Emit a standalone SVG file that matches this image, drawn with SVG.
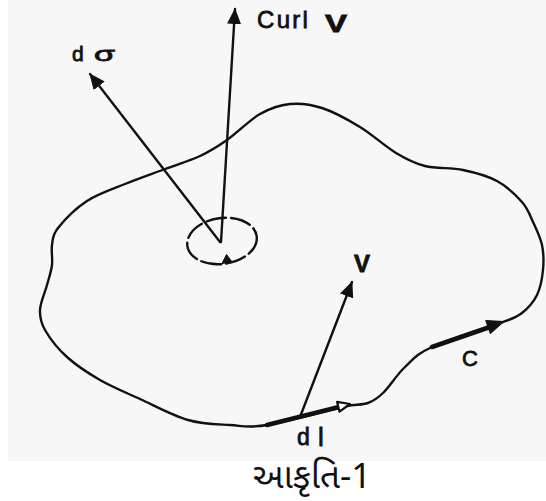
<svg xmlns="http://www.w3.org/2000/svg" width="546" height="501" viewBox="0 0 546 501">
  <style>
    .ln { fill: none; stroke: #111; stroke-width: 2.4; stroke-linecap: round; stroke-linejoin: round; }
    .bold { fill: none; stroke: #111; stroke-width: 4.5; stroke-linecap: round; }
    .lbl { font-family: "Liberation Sans", Arial, sans-serif; fill: #111; stroke: #111; stroke-width: 0.8; }
    .cap { font-family: "Noto Sans Gujarati", "Noto Sans", "Liberation Sans", sans-serif; fill: #111; font-size: 35px; }
    .head { fill: #111; stroke: #111; stroke-width: 1; stroke-linejoin: round; }
  </style>
  <defs>
    <marker id="arr" viewBox="0 0 16 14" refX="15" refY="7" markerWidth="16" markerHeight="14" markerUnits="userSpaceOnUse" orient="auto">
      <path d="M0,0 L16,7 L0,14 z" fill="#111"/>
    </marker>
  </defs>
  <rect x="8" y="0" width="538" height="461" fill="#f7f7f7"/>

  <g id="region">
    <path class="ln" d="M290,104 C300.3,103 310.3,104.2 322,108 C333.7,111.8 347.7,119.5 360,127 C372.3,134.5 385.2,146.5 396,153 C406.8,159.5 413.8,163.2 425,166 C436.2,168.8 451,167.5 463,170 C475,172.5 487.2,175.7 497,181 C506.8,186.3 516,195.2 522,202 C528,208.8 529.7,214.8 533,222 C536.3,229.2 540.3,237 542,245 C543.7,253 543.8,261.7 543,270 C542.2,278.3 540.5,287.8 537,295 C533.5,302.2 527.7,308.5 522,313 C516.3,317.5 509,319.9 503,322 C497,324.1 448.3,339.5 432,347 C415.7,354.5 413.2,359.3 405,367 C396.8,374.7 389.2,387 383,393 C376.8,399 374,400.8 368,403 C362,405.2 355,404.2 347,406 C339,407.8 286.5,421.8 267,425 C247.5,428.2 243.2,425.8 230,425 C216.8,424.2 203,424.3 188,420 C173,415.7 154.7,405.7 140,399 C125.3,392.3 112.2,387 100,380 C87.8,373 76.2,365.3 67,357 C57.8,348.7 49.5,337.8 45,330 C40.5,322.2 39.7,317.5 40,310 C40.3,302.5 45,292.5 47,285 C49,277.5 51.2,271.7 52,265 C52.8,258.3 51,251.2 52,245 C53,238.8 52.2,235.3 58,228 C63.8,220.7 75.8,208.3 87,201 C98.2,193.7 112,189.3 125,184 C138,178.7 152.5,173.7 165,169 C177.5,164.3 189.7,160.8 200,156 C210.3,151.2 217,147 227,140 C237,133 249.5,120 260,114 C270.5,108 279.7,105 290,104 Z"/>
  </g>

  <g id="loop">
    <ellipse class="ln" cx="222" cy="241" rx="35" ry="23" transform="rotate(-8 222 241)" stroke-dasharray="20 5"/>
    <polygon class="head" points="222,263.5 231.9,261.7 226.5,254.5"/>
  </g>

  <g id="connectors">
    <line class="ln" x1="221" y1="242" x2="235" y2="9" marker-end="url(#arr)"/>
    <line class="ln" x1="220" y1="242" x2="90" y2="74" marker-end="url(#arr)"/>
    <line class="ln" x1="300" y1="417" x2="352" y2="282" marker-end="url(#arr)"/>
    <line class="bold" x1="432" y1="347" x2="490" y2="327"/>
    <polygon class="head" points="504,321.5 490.3,333.7 485.7,320.5"/>
    <line class="bold" x1="267" y1="425" x2="339" y2="407" stroke-width="4"/>
    <polygon points="350,404 339.5,411.7 337.1,401.9" fill="#fff" stroke="#111" stroke-width="2.2" stroke-linejoin="round"/>
  </g>

  <g id="labels">
    <text class="lbl" x="257" y="28" font-size="24" letter-spacing="2.3">Curl</text>
    <text class="lbl" x="325" y="32" font-size="24" font-weight="bold" textLength="22" lengthAdjust="spacingAndGlyphs">V</text>
    <text class="lbl" x="72" y="61" font-size="21">d</text>
    <text class="lbl" x="94" y="61" font-size="21" textLength="21" lengthAdjust="spacingAndGlyphs">σ</text>
    <text class="lbl" x="354" y="272" font-size="24" font-weight="bold">V</text>
    <text class="lbl" x="462" y="366" font-size="22">C</text>
    <text class="lbl" x="297" y="445" font-size="23">d</text>
    <text class="lbl" x="318" y="446" font-size="26">l</text>
  </g>

  <text class="cap" x="312" y="488" text-anchor="middle">આકૃતિ-1</text>
</svg>
